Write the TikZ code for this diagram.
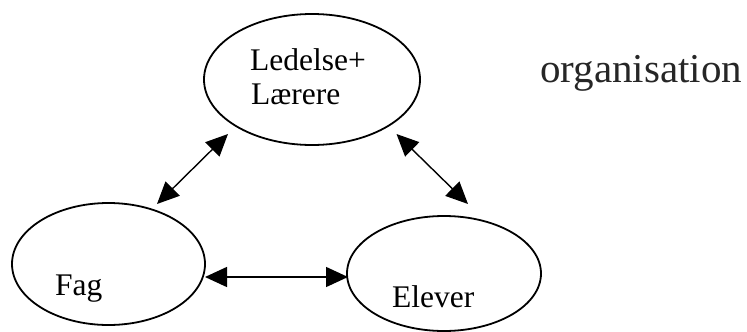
\documentclass[tikz,border=0pt]{standalone}
\usepackage{fontspec}
\setmainfont{Liberation Serif}
\usetikzlibrary{arrows.meta,shapes.geometric}

\tikzset{
  oval/.style={draw=black, line width=1.8pt, ellipse, inner sep=0pt},
  lbl/.style={inner sep=0pt, anchor=base west, font=\fontsize{31.5}{34}\selectfont},
  title/.style={inner sep=0pt, anchor=base west, font=\fontsize{41}{44}\selectfont, text=black!85},
  biarrow/.style={line width=1.4pt, {Triangle[length=22pt,width=20pt]}-{Triangle[length=22pt,width=20pt]}}
}

\begin{document}
\begin{tikzpicture}[x=1pt,y=-1pt]
  \useasboundingbox (0,0) rectangle (747,332);

  % the three groups
  \node[oval, minimum width=216pt, minimum height=131pt] (top) at (312,79.5) {};
  \node[oval, minimum width=193pt, minimum height=122pt] (fag) at (108.5,264) {};
  \node[oval, minimum width=194pt, minimum height=115pt] (elev) at (444,273.5) {};

  % labels
  \node[lbl] (l1) at (250,70) {Ledelse+};
  \node[lbl] (l2) at (251,104) {Lærere};
  \node[lbl] (l3) at (55,295) {Fag};
  \node[lbl] (l4) at (392,307) {Elever};
  \node[title] (org) at (540,82) {organisation};

  % arrow end points
  \coordinate (tl) at (228,134);
  \coordinate (fr) at (157,204);
  \coordinate (tr) at (396.5,134);
  \coordinate (er) at (468,204);
  \coordinate (fe) at (205,277);
  \coordinate (ew) at (348,277);

  \draw[biarrow] (fr) -- (tl);
  \draw[biarrow] (tr) -- (er);
  \draw[biarrow] (fe) -- (ew);
\end{tikzpicture}
\end{document}
